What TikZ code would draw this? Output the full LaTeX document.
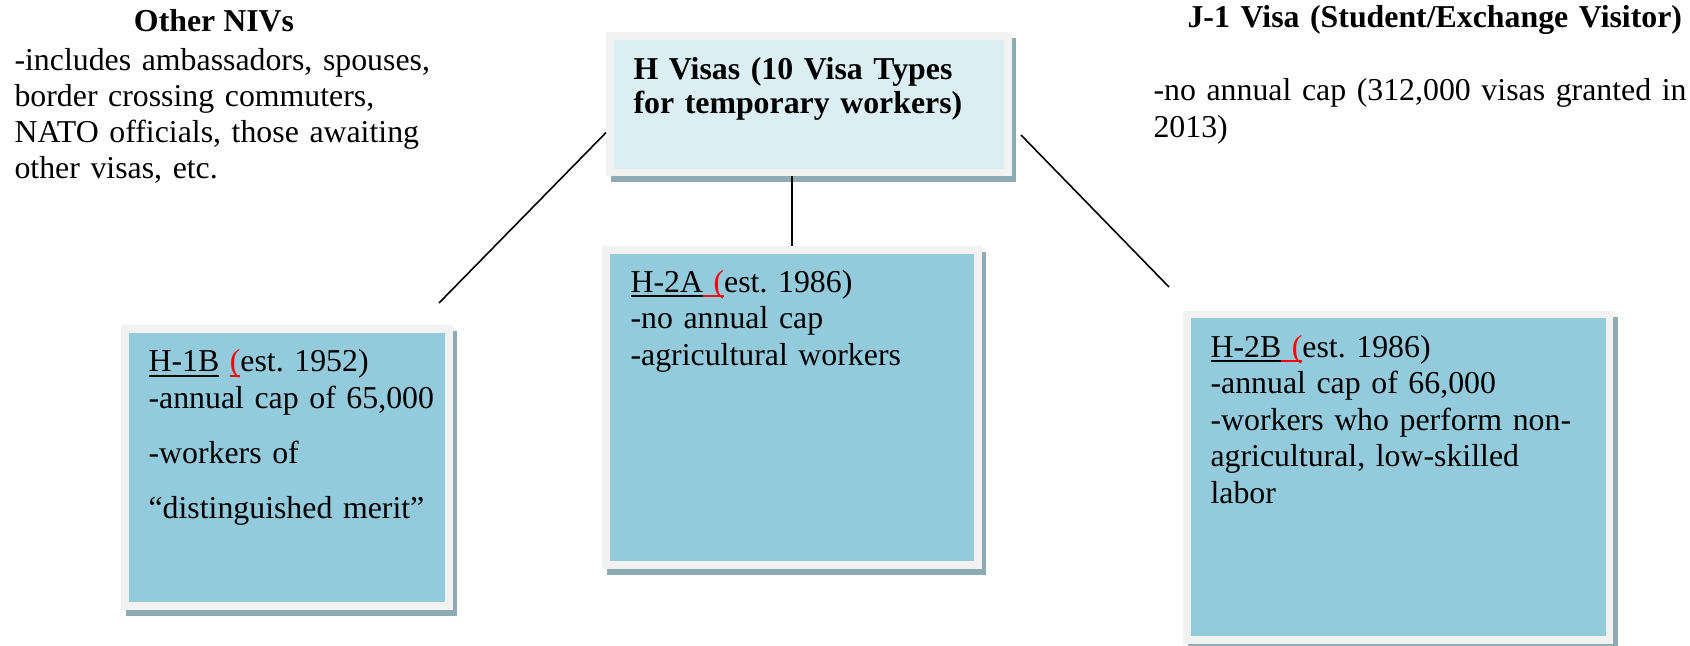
\documentclass[tikz,border=0pt]{standalone}
\usepackage{fontspec}
\setmainfont{Liberation Serif}
\usetikzlibrary{shadows}
\frenchspacing

\definecolor{rimgray}{RGB}{242,242,242}
\definecolor{visablue}{RGB}{147,203,220}
\definecolor{headblue}{RGB}{219,238,243}
\definecolor{shadeblue}{RGB}{142,171,179}

\newcommand{\visaul}[1]{\setbox0\hbox{#1}\rlap{\rule[-1.7pt]{\wd0}{0.6pt}}\box0\relax}

\tikzset{
  visabox/.style={draw=rimgray, line width=2.83pt, fill=visablue, anchor=north west, inner sep=0pt,
    general shadow={fill=shadeblue, draw=shadeblue, shadow xshift=1.7pt, shadow yshift=-2.3pt}},
  headbox/.style={visabox, fill=headblue},
  boxtext/.style={inner sep=0pt, align=left, text width=320pt, anchor=base west,
    font=\fontsize{12pt}{13.8pt}\selectfont},
  link/.style={line width=0.6pt}
}

\begin{document}
\begin{tikzpicture}[x=0.377pt, y=-0.377pt]
\useasboundingbox (0,0) rectangle (1690,646);
\node[headbox, minimum width=150.2pt, minimum height=51.5pt] (hvisa) at (606,32) {};
\node[visabox, minimum width=122.3pt, minimum height=104.6pt] (h1b) at (121,325) {};
\node[visabox, minimum width=140.4pt, minimum height=118.9pt] (h2a) at (602,246) {};
\node[visabox, minimum width=159.3pt, minimum height=122.9pt] (h2b) at (1183,310.5) {};
\node[boxtext, font=\bfseries\fontsize{12pt}{12.5pt}\selectfont] (hvisatext) at ([shift={(27,48)}]hvisa.north west)
  {H Visas (10 Visa Types\\for temporary workers)};
\node[boxtext] (h1btext) at ([shift={(27,47)}]h1b.north west)
  {\visaul{H-1B} \textcolor{red}{\visaul{(}}est. 1952)\\
   -annual cap of 65,000\\[6.9pt]
   -workers of\\[6.9pt]
   “distinguished merit”};
\node[boxtext] (h2atext) at ([shift={(28,46)}]h2a.north west)
  {\visaul{H-2A}\textcolor{red}{\visaul{ (}}est. 1986)\\
   -no annual cap\\
   -agricultural workers};
\node[boxtext] (h2btext) at ([shift={(27,46.5)}]h2b.north west)
  {\visaul{H-2B}\textcolor{red}{\visaul{ (}}est. 1986)\\
   -annual cap of 66,000\\
   -workers who perform non-\\
   agricultural, low-skilled\\
   labor};
\node[boxtext, text width=, font=\bfseries\fontsize{12pt}{13.8pt}\selectfont, anchor=base] (nivhead) at (214,32) {Other NIVs};
\node[boxtext, font=\fontsize{12pt}{13.5pt}\selectfont] (nivbody) at (14,71)
  {-includes ambassadors, spouses,\\
   border crossing commuters,\\
   NATO officials, those awaiting\\
   other visas, etc.};
\node[boxtext, font=\bfseries\fontsize{12pt}{13.8pt}\selectfont] (j1head) at (1187,28)
  {J-1 Visa (Student/Exchange Visitor)};
\node[boxtext] (j1body) at (1153,101)
  {-no annual cap (312,000 visas granted in\\2013)};
\coordinate (h1bend) at (439,303);
\coordinate (hvisaright) at (1021,135);
\coordinate (h2bend) at (1169,287);
\draw[link] (hvisa.188) -- (h1bend);
\draw[link] (h2a.north) -- (h2a.north |- hvisa.south);
\draw[link] (hvisaright) -- (h2bend);
\end{tikzpicture}
\end{document}
